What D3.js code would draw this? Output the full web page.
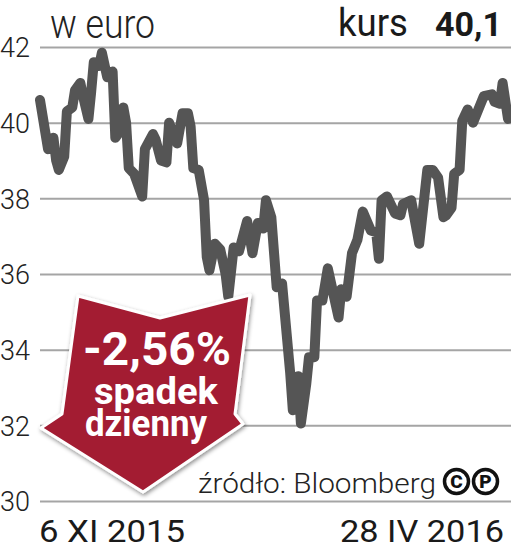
<!DOCTYPE html>
<html><head><meta charset="utf-8">
<script src="https://cdn.jsdelivr.net/npm/d3@7"></script>
<style>body{margin:0;background:#fff}svg{display:block}</style>
</head><body>
<script>
const dates = [
 "2015-11-06","2015-11-09","2015-11-11","2015-11-12","2015-11-13","2015-11-15","2015-11-16","2015-11-18","2015-11-19","2015-11-21",
 "2015-11-22","2015-11-24","2015-11-25","2015-11-26","2015-11-28","2015-11-29","2015-12-01","2015-12-03","2015-12-04","2015-12-05",
 "2015-12-07","2015-12-08","2015-12-09","2015-12-11","2015-12-14","2015-12-15","2015-12-18","2015-12-19","2015-12-21","2015-12-23",
 "2015-12-24","2015-12-25","2015-12-27","2015-12-29","2015-12-31","2016-01-01","2016-01-02","2016-01-04","2016-01-06","2016-01-07",
 "2016-01-08","2016-01-10","2016-01-12","2016-01-14","2016-01-15","2016-01-17","2016-01-19","2016-01-22","2016-01-24","2016-01-26",
 "2016-01-28","2016-01-29","2016-01-31","2016-02-02","2016-02-04","2016-02-07","2016-02-08","2016-02-10","2016-02-11","2016-02-13",
 "2016-02-14","2016-02-16","2016-02-17","2016-02-19","2016-02-21","2016-02-23","2016-02-25","2016-02-26","2016-02-28","2016-03-01",
 "2016-03-03","2016-03-05","2016-03-08","2016-03-10","2016-03-11","2016-03-12","2016-03-14","2016-03-17","2016-03-19","2016-03-20",
 "2016-03-23","2016-03-26","2016-03-29","2016-03-31","2016-04-02","2016-04-04","2016-04-05","2016-04-07","2016-04-08","2016-04-10",
 "2016-04-11","2016-04-13","2016-04-15","2016-04-17","2016-04-19","2016-04-22","2016-04-23","2016-04-25","2016-04-26","2016-04-28"
];
const values = [
 40.6,39.3,39.6,39.0,38.75,39.1,40.3,40.4,40.85,41.05,
 40.7,40.1,40.8,41.6,41.5,41.85,41.2,41.35,39.6,39.7,
 40.4,40.0,38.8,38.65,38.05,39.3,39.7,39.55,39.0,38.95,
 40.0,39.8,39.45,40.25,40.25,39.9,38.8,38.75,37.95,36.45,
 36.1,36.8,36.65,36.0,35.4,36.7,36.6,37.4,36.55,37.35,
 37.2,37.95,37.5,35.65,35.75,33.4,32.4,33.3,32.05,33.1,
 33.8,33.8,35.3,35.3,36.15,35.5,34.85,35.6,35.4,36.55,
 36.9,37.65,37.15,37.1,36.4,37.95,38.05,37.6,37.55,37.85,
 37.95,36.8,38.75,38.75,38.55,37.5,37.55,37.75,38.65,38.75,
 40.05,40.35,40.0,40.35,40.7,40.75,40.55,40.5,41.05,40.1
];
const yTicks = [30,32,34,36,38,40,42];
const xLabels = ["6 XI 2015","28 IV 2016"];
const unitLabel = "w euro";
const lastLabel = "kurs";
const lastValue = "40,1";
const badgeLines = ["-2,56%","spadek","dzienny"];
const sourceLabel = "źródło: Bloomberg";

const W = 511, H = 549;
const svg = d3.select("body").append("svg").attr("width", W).attr("height", H);
const defs = svg.append("defs");
const f = defs.append("filter").attr("id","sh").attr("x","-20%").attr("y","-20%").attr("width","140%").attr("height","140%");
f.append("feDropShadow").attr("dx",1).attr("dy",2).attr("stdDeviation",2.2).attr("flood-color","#000").attr("flood-opacity",0.45);

const parse = d3.timeParse("%Y-%m-%d");
const data = dates.map((d, i) => ({date: parse(d), value: values[i]}));
const x = d3.scaleTime().domain(d3.extent(data, d => d.date)).range([40, 508]);
const y = d3.scaleLinear().domain([30, 42]).range([501, 47]);

// grid + y labels via axis
const gAxis = svg.append("g").attr("transform", "translate(40,0)")
  .call(d3.axisLeft(y).tickValues(yTicks).tickSize(-471).tickPadding(0).tickFormat(d => d));
gAxis.select(".domain").remove();
gAxis.selectAll(".tick line").attr("stroke", "#a5a5a5").attr("stroke-width", 2);
gAxis.selectAll(".tick text")
  .attr("x", -40).attr("text-anchor", "start").attr("dy", "0.36em")
  .attr("font-family", "Roboto").attr("font-weight", 300).attr("font-size", 27).attr("fill", "#222");

// price line
svg.append("path").datum(data)
  .attr("fill", "none").attr("stroke", "#555").attr("stroke-width", 10)
  .attr("stroke-linejoin", "round").attr("stroke-linecap", "round")
  .attr("d", d3.line().x(d => x(d.date)).y(d => y(d.value)));

// header texts
svg.append("text").attr("x", 50).attr("y", 38).text(unitLabel)
  .attr("font-family", "Roboto").attr("font-weight", 300).attr("font-size", 40).attr("fill", "#222")
  .attr("textLength", 105).attr("lengthAdjust", "spacingAndGlyphs");
svg.append("text").attr("x", 338).attr("y", 36).text(lastLabel)
  .attr("font-family", "Roboto").attr("font-weight", 400).attr("font-size", 38).attr("fill", "#1a1a1a")
  .attr("textLength", 70).attr("lengthAdjust", "spacingAndGlyphs");
svg.append("text").attr("x", 435).attr("y", 36).text(lastValue)
  .attr("font-family", "Roboto").attr("font-weight", 700).attr("font-size", 34).attr("fill", "#1a1a1a")
  .attr("textLength", 67).attr("lengthAdjust", "spacingAndGlyphs");

// badge arrow
const arrowPts = [[78,296],[160,318],[250,295],[235,414],[243,424],[143,492],[41,428],[62,414]];
svg.append("path")
  .attr("d", d3.line()(arrowPts) + "Z")
  .attr("fill", "#a31c33").attr("stroke", "#fff").attr("stroke-width", 3).attr("stroke-linejoin", "round")
  .attr("filter", "url(#sh)");
const badge = [
  {t: badgeLines[0], x: 83, y: 365, s: 46, w: 148},
  {t: badgeLines[1], x: 94, y: 404, s: 37, w: 124},
  {t: badgeLines[2], x: 85, y: 436, s: 37, w: 122}
];
svg.append("g").selectAll("text").data(badge).join("text")
  .attr("x", d => d.x).attr("y", d => d.y).text(d => d.t)
  .attr("font-family", "Roboto").attr("font-weight", 700).attr("font-size", d => d.s).attr("fill", "#fff")
  .attr("textLength", d => d.w).attr("lengthAdjust", "spacingAndGlyphs");

// source
svg.append("text").attr("x", 198).attr("y", 493).text(sourceLabel)
  .attr("font-family", "Roboto").attr("font-weight", 300).attr("font-size", 27).attr("fill", "#222")
  .attr("textLength", 238).attr("lengthAdjust", "spacingAndGlyphs");
const marks = [{c: 456.5, t: "C"}, {c: 485.5, t: "P"}];
const gm = svg.append("g");
gm.selectAll("circle").data(marks).join("circle")
  .attr("cx", d => d.c).attr("cy", 481.5).attr("r", 12)
  .attr("fill", "none").attr("stroke", "#111").attr("stroke-width", 3.5);
gm.selectAll("text").data(marks).join("text")
  .attr("x", d => d.c).attr("y", 488).attr("text-anchor", "middle").text(d => d.t)
  .attr("font-family", "Roboto").attr("font-weight", 900).attr("font-size", 19).attr("fill", "#111");

// x labels
svg.append("text").attr("x", 39).attr("y", 542).text(xLabels[0])
  .attr("font-family", "Roboto").attr("font-weight", 400).attr("font-size", 31).attr("fill", "#1a1a1a")
  .attr("textLength", 146).attr("lengthAdjust", "spacingAndGlyphs");
svg.append("text").attr("x", 340).attr("y", 542).text(xLabels[1])
  .attr("font-family", "Roboto").attr("font-weight", 400).attr("font-size", 31).attr("fill", "#1a1a1a")
  .attr("textLength", 164).attr("lengthAdjust", "spacingAndGlyphs");
</script>
</body></html>
